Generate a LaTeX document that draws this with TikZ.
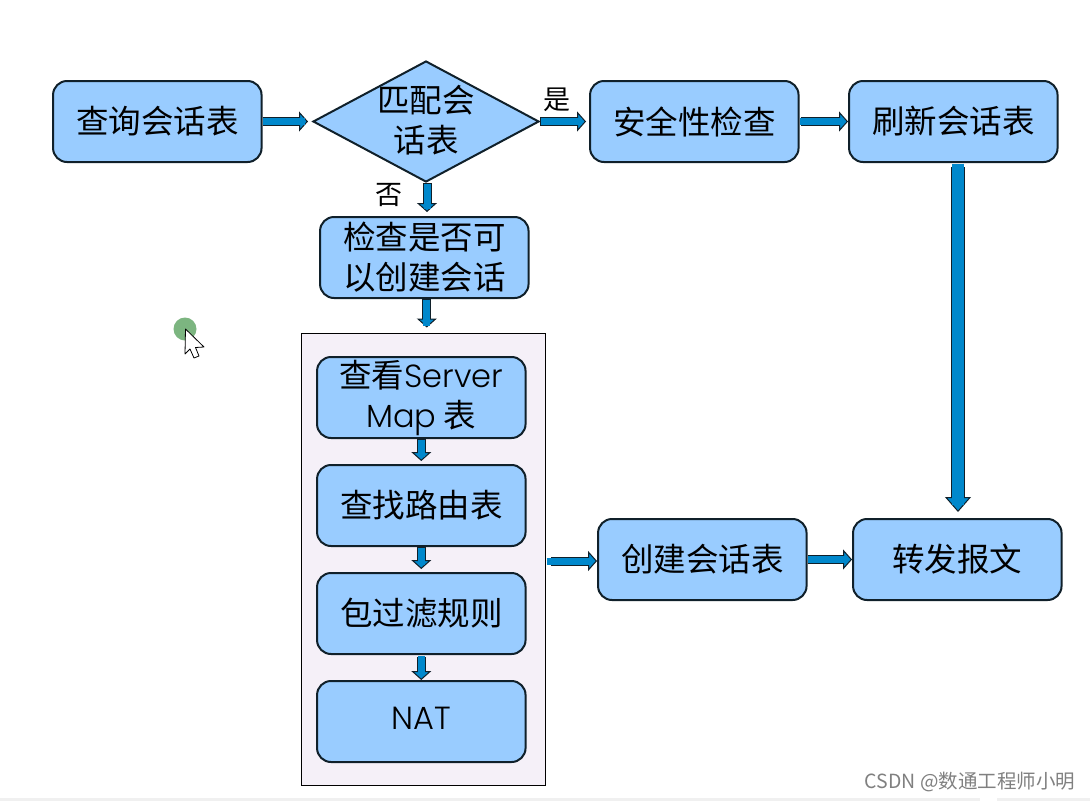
\documentclass[tikz,border=0pt]{standalone}
\usepackage{fontspec}
\setmainfont{Noto Sans CJK SC}
\newfontfamily\lat{Poppins Light}
\usetikzlibrary{arrows.meta,shapes.geometric,calc}
\definecolor{boxfill}{HTML}{99CCFF}
\definecolor{arrowfill}{HTML}{0088CC}
\definecolor{edge}{HTML}{10202A}
\definecolor{panel}{HTML}{F5F0F8}
\tikzset{
  x=1pt,y=-1pt,
  procbox/.style={draw=edge,fill=boxfill,line width=2pt,rounded corners=14pt,minimum width=208.5pt,minimum height=81pt,inner sep=0pt,align=center,font=\fontsize{32.5}{40}\selectfont,text=black},
  decision/.style={draw=edge,fill=boxfill,line width=2pt,shape=diamond,minimum width=226pt,minimum height=121pt,inner sep=0pt,aspect=1.87},
  blockarrow/.style={draw=edge,line width=9pt,-{Triangle[length=9pt,width=20pt,line width=1pt,fill=arrowfill,color=edge]},
    postaction={draw=arrowfill,line width=7pt,-,shorten >=7pt,shorten <=0.5pt}},
  bigarrow/.style={draw=edge,line width=14pt,-{Triangle[length=15pt,width=26pt,line width=1pt,fill=arrowfill,color=edge]},
    postaction={draw=arrowfill,line width=12pt,-,shorten >=13pt,shorten <=0.5pt}},
  smalltext/.style={font=\fontsize{27}{30}\selectfont,text=black,inner sep=0pt},
}
\begin{document}
\begin{tikzpicture}
\useasboundingbox (0,0) rectangle (1090,801);
\fill[white] (0,0) rectangle (1090,801);
\node[draw=black,fill=panel,line width=1pt,minimum width=244pt,minimum height=452pt,inner sep=0pt] (panel) at (423.7,559) {};
\node[procbox] (query) at (157.3,121.5) {查询会话表};
\node[decision,label={[align=center,font=\fontsize{32.5}{40}\selectfont,text=black,inner sep=0pt,yshift=1pt]center:{匹配会\\话表}}] (match) at (426,121.5) {};
\node[procbox] (secure) at (694.3,121.5) {安全性检查};
\node[procbox] (refresh) at (953.3,121.5) {刷新会话表};
\node[procbox] (check) at (424.3,257.5) {检查是否可\\以创建会话};
\node[procbox] (smap) at (421.3,397.5) {查看{\lat\fontsize{32}{40}\selectfont Server}\\{\lat\fontsize{32}{40}\selectfont Map} 表};
\node[procbox] (route) at (421.3,505.5) {查找路由表};
\node[procbox] (filter) at (421.3,613.5) {包过滤规则};
\node[procbox,font=\lat\fontsize{32}{40}\selectfont,text depth=6pt] (nat) at (421.3,721.5) {NAT};
\node[procbox] (create) at (702.3,559.5) {创建会话表};
\node[procbox] (forward) at (957.3,559.5) {转发报文};
\node[smalltext] (yes) at (557,100) {是};
\node[smalltext] (no) at (389,195) {否};
\draw[blockarrow,shorten >=4pt] (query.east) -- (match.west);
\draw[blockarrow,shorten >=3pt] (match.east) -- (secure.west);
\draw[blockarrow,shorten <=1pt] (secure.east) -- (refresh.west);
\draw[blockarrow,shorten >=4pt] ([xshift=1pt]match.south) -- ([xshift=1pt]match.south |- check.north);
\draw[blockarrow,shorten >=5pt] ([xshift=2.5pt]check.south) -- ([xshift=2.5pt]check.south |- panel.north);
\draw[blockarrow,shorten >=3pt] (smap.south) -- (route.north);
\draw[blockarrow,shorten >=3pt] (route.south) -- (filter.north);
\draw[blockarrow,shorten <=2pt] (filter.south) -- (nat.north);
\draw[blockarrow,shorten <=5pt] ([yshift=-2pt]panel.east) -- ([yshift=-2pt]panel.east -| create.west);
\draw[blockarrow] (create.east) -- (forward.west);
\draw[bigarrow,shorten <=4pt,shorten >=6pt] ([xshift=4.7pt]refresh.south) -- ([xshift=4.7pt]refresh.south |- forward.north);
% cursor overlay
\fill[color={rgb,255:red,124;green,181;blue,128}] (185,329) circle (11.5);
\filldraw[fill=white,draw=black,line width=0.8pt,line join=round] (185.5,329) -- (204,347) -- (195.5,347.5) -- (199,356) -- (194,358) -- (190,349) -- (185,354) -- cycle;
% watermark and bottom edge
\fill[gray!12] (0,798) rectangle (980,801);
\fill[gray!12] (997,798) rectangle (1090,801);
\node[font=\fontsize{19.5}{22}\selectfont,text=gray,inner sep=0pt] (mark) at (970,782) {CSDN @数通工程师小明};
\end{tikzpicture}
\end{document}
